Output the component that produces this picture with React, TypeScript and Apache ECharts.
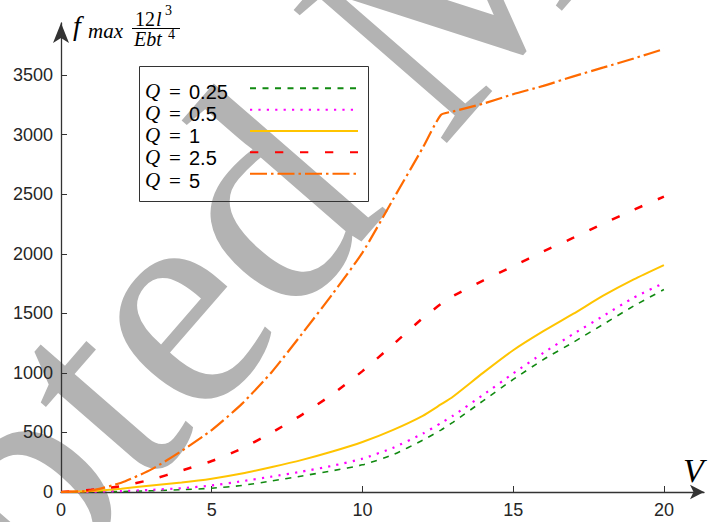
import React, { useEffect, useRef } from 'react';
import * as echarts from 'echarts';

// V values (x)
const V = [0, 1, 2, 3, 4, 5, 6, 7, 8, 9, 10, 11, 12, 12.6, 13, 14, 15, 16, 17, 18, 19, 20];
// f_max values for each Q
const q025 = [0, 1, 4, 10, 19, 32, 55, 93, 135, 178, 228, 312, 435, 520, 585, 765, 945, 1112, 1258, 1410, 1562, 1700];
const q05 = [0, 2, 8, 18, 32, 55, 90, 130, 172, 220, 280, 370, 490, 578, 640, 815, 995, 1168, 1328, 1480, 1632, 1755];
const q1 = [0, 8, 28, 55, 80, 112, 155, 210, 270, 340, 420, 520, 640, 735, 800, 1000, 1190, 1350, 1497, 1650, 1785, 1905];
const q25 = [0, 18, 50, 105, 180, 260, 365, 500, 650, 820, 1015, 1235, 1460, 1578, 1645, 1775, 1895, 2020, 2135, 2255, 2370, 2480];
const q5 = [0, 12, 78, 190, 345, 520, 740, 1010, 1330, 1660, 2010, 2450, 2890, 3165, 3195, 3260, 3340, 3410, 3490, 3565, 3640, 3720];

const seriesNames = ['Q = 0.25', 'Q = 0.5', 'Q = 1', 'Q = 2.5', 'Q = 5'];
const legendNumbers = ['0.25', '0.5', '1', '2.5', '5'];
const xTicks = [0, 5, 10, 15, 20];
const yTicks = [0, 500, 1000, 1500, 2000, 2500, 3000, 3500];

const colors = ['#118a11', '#ff00ff', '#ffc400', '#ff0000', '#ff6a00'];
const widths = [1.6, 2.2, 2, 2.5, 2.2];
const dashes: any[] = [[6, 6.5], [2.2, 6.2], 'solid', [8.3, 16.7], [17, 4, 2.5, 4]];

export default function App() {
  const ref = useRef<HTMLDivElement>(null);
  useEffect(() => {
    document.body.style.margin = '0';
    const chart = echarts.init(ref.current!, null, { renderer: 'svg' });
    const all = [q025, q05, q1, q25, q5];
    const series = all.map((vals, i) => ({
      name: seriesNames[i],
      type: 'line',
      data: V.map((v, j) => [v, vals[j]]),
      symbol: 'none',
      smooth: 0.2,
      z: 3 + i,
      lineStyle: { color: colors[i], width: widths[i], type: dashes[i], cap: 'butt' },
      itemStyle: { color: colors[i] },
    }));

    // watermark geometry
    const ang = (49 * Math.PI) / 180;
    const em = 310;
    const dir = [Math.cos(ang), -Math.sin(ang)];
    const up = [-Math.sin(ang), -Math.cos(ang)];
    const dOrigin = [280, 318];
    const before = 3.276 * em;
    const sx = dOrigin[0] - before * dir[0] + 0.3 * em * up[0];
    const sy = dOrigin[1] - before * dir[1] + 0.3 * em * up[1];

    const serif = '"Liberation Serif", "Times New Roman", serif';
    const sans = '"Liberation Sans", Arial, sans-serif';
    const rowY = [91, 113, 135, 157, 180];

    const legendTexts: any[] = [];
    legendNumbers.forEach((n, i) => {
      legendTexts.push({
        type: 'text', x: 145, y: rowY[i],
        style: { text: 'Q', fontFamily: serif, fontStyle: 'italic', fontSize: 21, fill: '#000', textVerticalAlign: 'middle' },
      });
      legendTexts.push({
        type: 'text', x: 169, y: rowY[i] + 1,
        style: { text: '=', fontFamily: serif, fontSize: 21, fill: '#000', textVerticalAlign: 'middle' },
      });
      legendTexts.push({
        type: 'text', x: 189, y: rowY[i] + 1,
        style: { text: n, fontFamily: sans, fontSize: 20, fill: '#000', textVerticalAlign: 'middle' },
      });
    });

    chart.setOption({
      animation: false,
      grid: { left: 61, top: 23, width: 643, height: 469, containLabel: false },
      xAxis: {
        type: 'value', min: 0, max: 21.33,
        axisLine: { lineStyle: { color: '#333', width: 1.3 }, symbol: ['none', 'arrow'], symbolSize: [11, 14] },
        axisTick: { inside: true, length: 6, customValues: xTicks, lineStyle: { color: '#333' } },
        axisLabel: { customValues: xTicks, formatter: (v: number) => String(v), fontSize: 18, fontFamily: sans, color: '#262626', margin: 9 },
        splitLine: { show: false },
      },
      yAxis: {
        type: 'value', min: 0, max: 3938,
        axisLine: { show: true, lineStyle: { color: '#333', width: 1.3 }, symbol: ['none', 'arrow'], symbolSize: [12, 20] },
        axisTick: { show: true, inside: true, length: 6, customValues: yTicks, lineStyle: { color: '#333' } },
        axisLabel: { customValues: yTicks, formatter: (v: number) => String(v), fontSize: 18, fontFamily: sans, color: '#262626', margin: 8 },
        splitLine: { show: false },
      },
      legend: {
        orient: 'vertical', left: 249, top: 84.3, padding: 0,
        itemWidth: 108, itemHeight: 10, itemGap: 13.35,
        formatter: () => '',
        textStyle: { fontSize: 6, lineHeight: 6 },
        itemStyle: { opacity: 0, borderWidth: 0 },
        selectedMode: false,
        data: seriesNames,
      },
      graphic: [
        {
          type: 'text', x: sx, y: sy, rotation: ang, z: -10, silent: true,
          style: { text: 'Accepted Manuscript', fontFamily: serif, fontSize: em, fill: '#b3b3b3', textAlign: 'left', textVerticalAlign: 'middle' },
        },
        {
          type: 'rect', shape: { x: 139.5, y: 66.5, width: 229, height: 135 },
          style: { fill: 'none', stroke: '#333', lineWidth: 1 }, z: 1,
        },
        ...legendTexts,
        // y-axis title: f_max * 12 l^3 / (E b t^4)
        { type: 'text', x: 73, y: 25, style: { text: 'f', fontFamily: serif, fontStyle: 'italic', fontSize: 28, fill: '#000', textVerticalAlign: 'middle' } },
        { type: 'text', x: 88, y: 31, style: { text: 'max', fontFamily: serif, fontStyle: 'italic', fontSize: 21, fill: '#000', textVerticalAlign: 'middle' } },
        { type: 'text', x: 135, y: 19, style: { text: '12', fontFamily: serif, fontSize: 20, fill: '#000', textVerticalAlign: 'middle' } },
        { type: 'text', x: 156, y: 19, style: { text: 'l', fontFamily: serif, fontStyle: 'italic', fontSize: 20, fill: '#000', textVerticalAlign: 'middle' } },
        { type: 'text', x: 165, y: 10, style: { text: '3', fontFamily: serif, fontSize: 14, fill: '#000', textVerticalAlign: 'middle' } },
        { type: 'line', shape: { x1: 132, y1: 28.5, x2: 180, y2: 28.5 }, style: { stroke: '#000', lineWidth: 1.2 } },
        { type: 'text', x: 134, y: 39, style: { text: 'Ebt', fontFamily: serif, fontStyle: 'italic', fontSize: 20, fill: '#000', textVerticalAlign: 'middle' } },
        { type: 'text', x: 168, y: 34, style: { text: '4', fontFamily: serif, fontSize: 14, fill: '#000', textVerticalAlign: 'middle' } },
        // x-axis title
        { type: 'text', x: 683, y: 470, style: { text: 'V', fontFamily: serif, fontStyle: 'italic', fontSize: 34, fill: '#000', textVerticalAlign: 'middle' } },
      ],
      series,
    });
    return () => chart.dispose();
  }, []);
  return <div ref={ref} style={{ width: 712, height: 522 }} />;
}
